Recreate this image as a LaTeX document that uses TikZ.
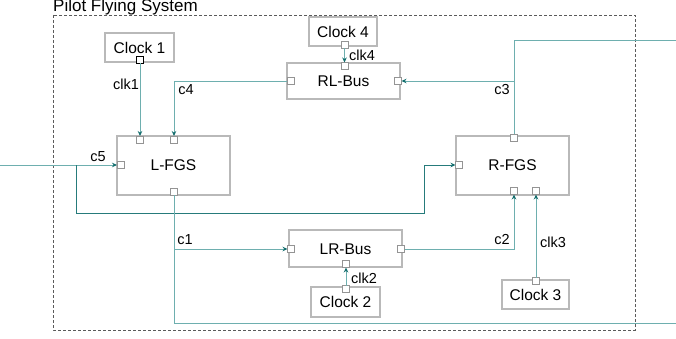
\documentclass[tikz,border=0pt]{standalone}
\usepackage{fontspec}
\setmainfont{Liberation Sans}
\usetikzlibrary{arrows.meta}
\definecolor{wire}{RGB}{110,175,175}
\definecolor{tipc}{RGB}{20,110,110}
\definecolor{boxc}{RGB}{185,185,185}
\definecolor{framec}{RGB}{90,90,90}
\tikzset{
  blk/.style={draw=boxc, line width=1.2pt, fill=white},
  port/.style={draw=boxc!80!black, line width=0.9pt, fill=white, minimum size=7pt, inner sep=0pt, outer sep=0pt},
  wireline/.style={draw=wire, line width=0.9pt},
  conn/.style={wireline, -{Stealth[length=5pt,width=4.5pt,color=tipc]}},
  lbl/.style={font=\fontsize{14.5}{16}\selectfont, inner sep=0pt},
  btxt/.style={font=\fontsize{15.5}{17}\selectfont, inner sep=0pt},
}
\begin{document}
\begin{tikzpicture}[x=1pt,y=-1pt]
\useasboundingbox (0,0) rectangle (676,339);
% frame
\draw[framec, line width=0.9pt, dash pattern=on 3pt off 2pt] (53,15) rectangle (635,330);
\node[anchor=base west, font=\fontsize{17}{19}\selectfont, inner sep=0pt] (title) at (53,12) {Pilot Flying System};
% blocks
\draw[blk] (105,33) rectangle (174,62);
\node[btxt] (clock1) at (139.5,47.5) {Clock 1};
\draw[blk] (309,17) rectangle (377,46);
\node[btxt] (clock4) at (343,31.5) {Clock 4};
\draw[blk] (287,63) rectangle (400,99);
\node[btxt] (rlbus) at (343.5,81) {RL-Bus};
\draw[blk] (117,136) rectangle (230,195);
\node[btxt] (lfgs) at (173.5,165.5) {L-FGS};
\draw[blk] (456,136) rectangle (569,195);
\node[btxt] (rfgs) at (512.5,165.5) {R-FGS};
\draw[blk] (289,230) rectangle (402,267);
\node[btxt] (lrbus) at (345.5,249) {LR-Bus};
\draw[blk] (311,287) rectangle (380,317);
\node[btxt] (clock2) at (345.5,302) {Clock 2};
\draw[blk] (502,280) rectangle (569,309);
\node[btxt] (clock3) at (535.5,294.5) {Clock 3};
% ports
\node[port, draw=black] (clkip) at (140,59.5) {};
\node[port] (clkivp) at (344.5,45) {};
\node[port] (rlbt) at (344.5,66) {};
\node[port] (rlbl) at (290.5,81) {};
\node[port] (rlbr) at (398,81) {};
\node[port] (lfgst1) at (140,139.5) {};
\node[port] (lfgst2) at (174,139.5) {};
\node[port] (lfgsl) at (120.5,165) {};
\node[port] (lfgsb) at (174,191.5) {};
\node[port] (rfgst) at (514,137.5) {};
\node[port] (rfgsl) at (459,165) {};
\node[port] (rfgsb1) at (514,191) {};
\node[port] (rfgsb2) at (536,191) {};
\node[port] (lrbl) at (291,249) {};
\node[port] (lrbr) at (401,249) {};
\node[port] (lrbb) at (346,264) {};
\node[port] (clkiip) at (346,289) {};
\node[port] (clkiiip) at (536,281) {};
% free ends and junctions
\coordinate (c5start) at (0,165);
\coordinate (c5j) at (76,165);
\coordinate (c5b) at (424,213);
\coordinate (c3j) at (514,81);
\coordinate (c3end) at (676,40);
\coordinate (c1j) at (174,249);
\coordinate (c1end) at (676,323);
% connectors
\draw[conn] (clkip.south) -- (lfgst1.north);
\draw[conn] (rlbl.west) -| (lfgst2.north);
\draw[conn] (clkivp.south) -- (rlbt.north);
\draw[wireline] (rfgst.north) |- (c3end);
\draw[conn] (c3j) -- (rlbr.east);
\draw[conn] (c5start) -- (lfgsl.west);
\draw[conn, draw=tipc!80!wire] (c5j) |- (c5b) |- (rfgsl.west);
\draw[wireline] (lfgsb.south) |- (c1end);
\draw[conn] (c1j) -- (lrbl.west);
\draw[conn] (lrbr.east) -| (rfgsb1.south);
\draw[conn] (clkiip.north) -- (lrbb.south);
\draw[conn] (clkiiip.north) -- (rfgsb2.south);
% labels
\node[lbl] (lclk1) at (126,84) {clk1};
\node[lbl] (lc4) at (186,90) {c4};
\node[lbl] (lclk4) at (362,55) {clk4};
\node[lbl] (lc3) at (502,90) {c3};
\node[lbl] (lc5) at (98,157) {c5};
\node[lbl] (lc1) at (185,240) {c1};
\node[lbl] (lc2) at (502,240) {c2};
\node[lbl] (lclk2) at (364,278) {clk2};
\node[lbl] (lclk3) at (553,242) {clk3};
\end{tikzpicture}
\end{document}
